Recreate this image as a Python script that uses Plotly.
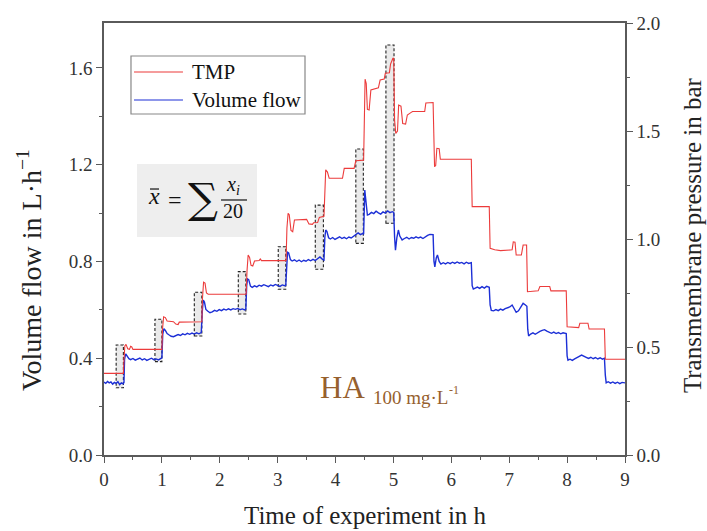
import plotly.graph_objects as go

# Transmembrane pressure (bar) over experiment time (h)
tmp_time = [0.00, 0.335, 0.345, 0.36, 0.38, 0.41, 0.44, 0.46, 0.48, 0.50, 1.00,
            1.01, 1.03, 1.06, 1.09, 1.20, 1.24, 1.28, 1.30, 1.69,
            1.70, 1.72, 1.745, 1.77, 1.80, 2.455,
            2.47, 2.49, 2.515, 2.54, 2.57, 2.60, 2.68, 2.70, 2.72, 3.145,
            3.16, 3.18, 3.20, 3.23, 3.26, 3.29, 3.50, 3.54, 3.60, 3.62, 3.69, 3.72, 3.80,
            3.815, 3.83, 3.86, 3.89, 4.12, 4.15, 4.32, 4.35, 4.485,
            4.50, 4.51, 4.53, 4.55, 4.58, 4.61, 4.74, 4.77, 4.84, 4.86, 4.93, 4.95, 4.99, 5.005,
            5.02, 5.04, 5.07, 5.09, 5.13, 5.16, 5.21, 5.24, 5.30, 5.33, 5.54, 5.56, 5.685,
            5.70, 5.71, 5.73, 5.75, 5.79, 5.81, 6.345,
            6.36, 6.655,
            6.67, 6.75, 6.85, 7.05, 7.07, 7.10, 7.12, 7.21, 7.24, 7.30,
            7.315, 7.50, 7.53, 7.70, 7.72, 7.985,
            8.00, 8.20, 8.22, 8.36, 8.38, 8.645,
            8.66, 9.00]
tmp_bar = [0.378, 0.378, 0.44, 0.505, 0.512, 0.492, 0.489, 0.503, 0.500, 0.489, 0.489,
           0.58, 0.640, 0.636, 0.620, 0.617, 0.606, 0.604, 0.615, 0.617,
           0.72, 0.800, 0.796, 0.750, 0.744, 0.744,
           0.85, 0.926, 0.915, 0.878, 0.875, 0.898, 0.900, 0.908, 0.900, 0.900,
           1.05, 1.119, 1.112, 1.040, 1.034, 1.088, 1.091, 1.070, 1.068, 1.075, 1.076, 1.100, 1.105,
           1.20, 1.320, 1.310, 1.281, 1.281, 1.327, 1.327, 1.362, 1.365,
           1.60, 1.740, 1.72, 1.600, 1.597, 1.690, 1.700, 1.736, 1.740, 1.767, 1.770, 1.81, 1.836, 1.836,
           1.55, 1.489, 1.50, 1.62, 1.615, 1.535, 1.532, 1.574, 1.585, 1.590, 1.590, 1.630, 1.632,
           1.40, 1.335, 1.34, 1.420, 1.418, 1.369, 1.369,
           1.150, 1.150,
           0.957, 0.950, 0.946, 0.950, 0.987, 0.985, 0.926, 0.926, 0.972, 0.972,
           0.756, 0.760, 0.780, 0.780, 0.760, 0.760,
           0.594, 0.590, 0.610, 0.610, 0.583, 0.583,
           0.443, 0.443]

# Volume flow (L/h) over experiment time (h)
flow_time = [0.00, 0.03, 0.06, 0.09, 0.12, 0.15, 0.18, 0.21, 0.24, 0.27, 0.30, 0.33,
             0.345, 0.355, 0.375, 0.40, 0.43,
             0.46, 0.50, 0.54, 0.58, 0.62, 0.66, 0.70, 0.74, 0.78, 0.82, 0.86, 0.90, 0.94, 0.98, 1.00,
             1.015, 1.035, 1.06, 1.09,
             1.12, 1.16, 1.20, 1.24, 1.28, 1.32, 1.36, 1.40, 1.44, 1.48, 1.52, 1.56, 1.60, 1.64, 1.68,
             1.70, 1.715, 1.735, 1.76,
             1.79, 1.83, 1.87, 1.91, 1.95, 1.99, 2.03, 2.07, 2.11, 2.15, 2.19, 2.23, 2.27, 2.31, 2.35,
             2.39, 2.43, 2.45,
             2.465, 2.48, 2.50, 2.53,
             2.56, 2.60, 2.64, 2.68, 2.72, 2.76, 2.80, 2.84, 2.88, 2.92, 2.96, 3.00, 3.04, 3.08, 3.12, 3.14,
             3.155, 3.17, 3.19, 3.22,
             3.25, 3.29, 3.33, 3.37, 3.41, 3.45, 3.49, 3.53, 3.57, 3.61, 3.65, 3.69, 3.73, 3.77, 3.80,
             3.815, 3.83, 3.85, 3.88,
             3.91, 3.95, 3.99, 4.03, 4.07, 4.11, 4.15, 4.19, 4.23, 4.27, 4.31, 4.35, 4.39, 4.43, 4.47, 4.485,
             4.495, 4.505, 4.52, 4.55,
             4.58, 4.62, 4.66, 4.70, 4.74, 4.78, 4.82, 4.86, 4.90, 4.94, 4.98, 5.005,
             5.02, 5.035, 5.06, 5.085, 5.11, 5.15,
             5.19, 5.23, 5.27, 5.31, 5.35, 5.39, 5.43, 5.47, 5.51, 5.55, 5.59, 5.63, 5.67, 5.685,
             5.70, 5.715, 5.74, 5.76, 5.79,
             5.82, 5.86, 5.90, 5.94, 5.98, 6.02, 6.06, 6.10, 6.14, 6.18, 6.22, 6.26, 6.30, 6.345,
             6.36, 6.38, 6.41,
             6.45, 6.49, 6.53, 6.57, 6.61, 6.655,
             6.67, 6.69,
             6.73, 6.77, 6.81, 6.85, 6.89, 6.93, 6.97, 7.01, 7.05, 7.08, 7.12, 7.16, 7.20, 7.24, 7.28, 7.305,
             7.32, 7.335,
             7.37, 7.41, 7.45, 7.49, 7.53, 7.57, 7.61, 7.65, 7.69, 7.73, 7.77, 7.81, 7.85, 7.89, 7.93, 7.985,
             8.00, 8.015,
             8.05, 8.09, 8.13, 8.17, 8.21, 8.25, 8.29, 8.33, 8.37, 8.41, 8.45, 8.49, 8.53, 8.57, 8.61, 8.645,
             8.66, 8.675,
             8.71, 8.75, 8.79, 8.83, 8.87, 8.91, 8.95, 9.00]
flow_lph = [0.301, 0.296, 0.304, 0.298, 0.302, 0.293, 0.300, 0.296, 0.303, 0.291, 0.298, 0.294,
            0.300, 0.395, 0.418, 0.410, 0.398,
            0.394, 0.399, 0.392, 0.397, 0.401, 0.393, 0.398, 0.391, 0.396, 0.400, 0.394, 0.397, 0.393, 0.399, 0.402,
            0.500, 0.522, 0.515, 0.502,
            0.497, 0.491, 0.489, 0.495, 0.498, 0.494, 0.501, 0.497, 0.503, 0.499, 0.504, 0.500, 0.505, 0.501, 0.506,
            0.600, 0.640, 0.632, 0.602,
            0.595, 0.588, 0.592, 0.598, 0.594, 0.601, 0.597, 0.603, 0.599, 0.604, 0.600, 0.605, 0.602, 0.606, 0.601,
            0.604, 0.600, 0.603,
            0.700, 0.728, 0.725, 0.698,
            0.693, 0.699, 0.695, 0.702, 0.698, 0.704, 0.700, 0.696, 0.703, 0.699, 0.705, 0.701, 0.697, 0.703, 0.700, 0.702,
            0.800, 0.838, 0.835, 0.808,
            0.802, 0.807, 0.800, 0.806, 0.799, 0.805, 0.801, 0.808, 0.803, 0.809, 0.804, 0.812, 0.819, 0.810, 0.806,
            0.900, 0.930, 0.925, 0.898,
            0.893, 0.899, 0.891, 0.897, 0.902, 0.895, 0.900, 0.894, 0.901, 0.897, 0.905, 0.912, 0.918, 0.911, 0.916, 0.913,
            1.040, 1.095, 1.060, 0.992,
            0.995, 1.003, 0.998, 1.008, 1.001, 0.996, 1.005, 1.000, 1.009, 1.002, 1.006, 1.003,
            0.900, 0.847, 0.900, 0.930, 0.905, 0.889,
            0.895, 0.900, 0.893, 0.899, 0.896, 0.902, 0.897, 0.901, 0.895, 0.903, 0.908, 0.912, 0.909, 0.911,
            0.800, 0.778, 0.815, 0.827, 0.800,
            0.789, 0.795, 0.790, 0.796, 0.791, 0.797, 0.792, 0.798, 0.793, 0.796, 0.790, 0.797, 0.792, 0.795,
            0.700, 0.686, 0.691,
            0.694, 0.689, 0.696, 0.690, 0.697, 0.693,
            0.620, 0.598,
            0.596, 0.601, 0.597, 0.603, 0.599, 0.605, 0.609, 0.612, 0.620, 0.605, 0.590, 0.596, 0.612, 0.627, 0.620, 0.615,
            0.520, 0.492,
            0.500, 0.505, 0.499, 0.506, 0.511, 0.515, 0.518, 0.512, 0.507, 0.503, 0.508, 0.502, 0.506, 0.501, 0.505, 0.502,
            0.410, 0.392,
            0.396, 0.391, 0.397, 0.401, 0.408, 0.413, 0.410, 0.404, 0.399, 0.404, 0.398, 0.403, 0.397, 0.402, 0.396, 0.400,
            0.330, 0.298,
            0.303, 0.297, 0.302, 0.296, 0.301, 0.295, 0.300, 0.298]

# Averaging windows (last 20 readings before each step), in h and L/h
win_start = [0.21, 0.88, 1.56, 2.32, 3.01, 3.65, 4.35, 4.87]
win_end = [0.335, 1.00, 1.69, 2.45, 3.14, 3.79, 4.48, 5.01]
win_low = [0.278, 0.386, 0.492, 0.583, 0.685, 0.768, 0.875, 0.958]
win_high = [0.455, 0.561, 0.673, 0.758, 0.861, 1.033, 1.265, 1.695]

x_ticks = list(range(0, 10))
flow_ticks = [0.0, 0.4, 0.8, 1.2, 1.6]
tmp_ticks = [0.0, 0.5, 1.0, 1.5, 2.0]

series_names = ["TMP", "Volume flow"]

FONT = "Liberation Serif, Times New Roman, serif"
AXIS_COL = "#5a5a5a"
TXT_COL = "#333333"
INK = "#111111"
TITLE_COL = "#222222"
RED = "#ec3b3b"
BLUE = "#1c2fd6"
BROWN = "#96602e"

fig = go.Figure()
fig.add_trace(go.Scatter(x=tmp_time, y=tmp_bar, mode="lines", name=series_names[0],
                         line=dict(color=RED, width=1.1), yaxis="y2", showlegend=False))
fig.add_trace(go.Scatter(x=flow_time, y=flow_lph, mode="lines", name=series_names[1],
                         line=dict(color=BLUE, width=1.4), yaxis="y", showlegend=False))

shapes = []
for a, b, lo, hi in zip(win_start, win_end, win_low, win_high):
    shapes.append(dict(type="rect", xref="x", yref="y", x0=a, x1=b, y0=lo, y1=hi,
                       fillcolor="rgba(200,200,200,0.38)",
                       line=dict(color="#222222", width=1.1, dash="3px,2px"), layer="below"))

# formula panel
shapes.append(dict(type="rect", xref="paper", yref="paper", x0=0.0633, x1=0.2937,
                   y0=0.5046, y1=0.6736, fillcolor="#eeeeee", line=dict(width=0), layer="below"))
# bar over x and fraction rule
shapes.append(dict(type="line", xref="paper", yref="paper", x0=0.0883, x1=0.1056,
                   y0=0.6157, y1=0.6157, line=dict(color=INK, width=1.2)))
shapes.append(dict(type="line", xref="paper", yref="paper", x0=0.2246, x1=0.2745,
                   y0=0.5903, y1=0.5903, line=dict(color=INK, width=1.2)))

# legend frame and sample lines
shapes.append(dict(type="rect", xref="paper", yref="paper", x0=0.0518, x1=0.3858,
                   y0=0.7894, y1=0.9236, fillcolor="white",
                   line=dict(color="#888888", width=1.2), layer="above"))
legend_rows = [(series_names[0], RED, 0.8866), (series_names[1], BLUE, 0.8218)]
for _, col, yy in legend_rows:
    shapes.append(dict(type="line", xref="paper", yref="paper", x0=0.0576, x1=0.1516,
                       y0=yy, y1=yy, line=dict(color=col, width=1.2), layer="above"))

annotations = [
    dict(text="<i>x</i>", xref="paper", yref="paper", x=0.0969, y=0.5990, showarrow=False,
         xanchor="center", yanchor="middle", font=dict(family=FONT, size=24, color=INK)),
    dict(text="=", xref="paper", yref="paper", x=0.1363, y=0.5903, showarrow=False,
         xanchor="center", yanchor="middle", font=dict(family=FONT, size=24, color=INK)),
    dict(text="∑", xref="paper", yref="paper", x=0.1891, y=0.5949, showarrow=False,
         xanchor="center", yanchor="middle", font=dict(family="DejaVu Serif", size=42, color=INK)),
    dict(text="<i>x<sub>i</sub></i>", xref="paper", yref="paper", x=0.2476, y=0.6227,
         xanchor="center", yanchor="middle", showarrow=False,
         font=dict(family=FONT, size=20, color=INK)),
    dict(text="20", xref="paper", yref="paper", x=0.2476, y=0.5648, showarrow=False,
         xanchor="center", yanchor="middle", font=dict(family=FONT, size=20, color=INK)),
    dict(text="HA", xref="paper", yref="paper", x=0.4587, y=0.157, showarrow=False,
         xanchor="center", yanchor="middle", font=dict(family=FONT, size=31, color=BROWN)),
    dict(text="100 mg·L", xref="paper", yref="paper", x=0.589, y=0.134, showarrow=False,
         xanchor="center", yanchor="middle", font=dict(family=FONT, size=19, color=BROWN)),
    dict(text="-1", xref="paper", yref="paper", x=0.6718, y=0.150, showarrow=False,
         xanchor="center", yanchor="middle", font=dict(family=FONT, size=12, color=BROWN)),
    # axis titles
    dict(text="Volume flow in L·h<sup>−1</sup>", xref="paper", yref="paper",
         x=-0.144, y=0.428, textangle=-90, showarrow=False,
         xanchor="center", yanchor="middle",
         font=dict(family=FONT, size=28, color=TITLE_COL)),
    dict(text="Transmembrane pressure in bar", xref="paper", yref="paper",
         x=1.1286, y=0.509, textangle=-90, showarrow=False,
         xanchor="center", yanchor="middle",
         font=dict(family=FONT, size=25, color=TITLE_COL)),
    dict(text="Time of experiment in h", xref="paper", yref="paper",
         x=0.501, y=-0.1389, showarrow=False,
         xanchor="center", yanchor="middle",
         font=dict(family=FONT, size=25, color=TITLE_COL)),
]
for name, _, yy in legend_rows:
    annotations.append(dict(text=name, xref="paper", yref="paper", x=0.1651, y=yy,
                            xanchor="left", yanchor="middle", showarrow=False,
                            font=dict(family=FONT, size=21, color=INK)))

tickfont = dict(family=FONT, size=19, color=TXT_COL)

fig.update_layout(
    width=707, height=531,
    margin=dict(l=104, r=82, t=23, b=76),
    paper_bgcolor="white", plot_bgcolor="white",
    showlegend=False,
    xaxis=dict(range=[0, 9], tickvals=x_ticks, ticktext=[str(v) for v in x_ticks],
               showgrid=False, zeroline=False, showline=True, mirror=True, automargin=False,
               linecolor=AXIS_COL, linewidth=1.5, ticks="outside", ticklen=6,
               tickcolor=AXIS_COL, tickwidth=1.3, tickfont=tickfont,
               minor=dict(dtick=0.5, ticks="outside", ticklen=3, tickcolor=AXIS_COL, tickwidth=1.2)),
    yaxis=dict(range=[0, 432 / 241.9], tickvals=flow_ticks, ticktext=[f"{v:.1f}" for v in flow_ticks],
               showgrid=False, zeroline=False, showline=True, automargin=False,
               linecolor=AXIS_COL, linewidth=1.5, ticks="outside", ticklen=6,
               tickcolor=AXIS_COL, tickwidth=1.3, tickfont=tickfont,
               minor=dict(dtick=0.2, ticks="outside", ticklen=3, tickcolor=AXIS_COL, tickwidth=1.2)),
    yaxis2=dict(range=[0, 2.0], tickvals=tmp_ticks, ticktext=[f"{v:.1f}" for v in tmp_ticks],
                overlaying="y", side="right", anchor="x", automargin=False,
                showgrid=False, zeroline=False, showline=True,
                linecolor=AXIS_COL, linewidth=1.5, ticks="outside", ticklen=6,
                tickcolor=AXIS_COL, tickwidth=1.3, tickfont=tickfont,
                minor=dict(dtick=0.25, ticks="outside", ticklen=3, tickcolor=AXIS_COL, tickwidth=1.2)),
    shapes=shapes,
    annotations=annotations,
)

fig.write_html("out.html")
